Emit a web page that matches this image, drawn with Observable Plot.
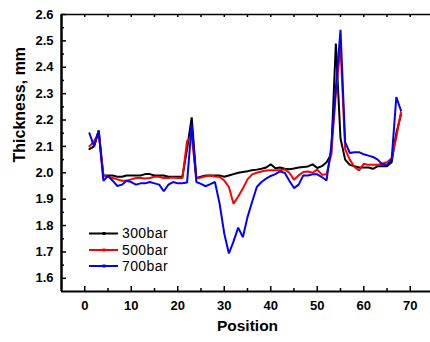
<!DOCTYPE html>
<html><head><meta charset="utf-8">
<script src="https://cdn.jsdelivr.net/npm/d3@7"></script>
<script src="https://cdn.jsdelivr.net/npm/@observablehq/plot@0.6"></script>
<style>body{margin:0;background:#fff}</style>
</head><body><div id="chart"></div>
<script>
const positions = [1,2,3,4,5,6,7,8,9,10,11,12,13,14,15,16,17,18,19,20,21,22,23,24,25,26,27,28,29,30,31,32,33,34,35,36,37,38,39,40,41,42,43,44,45,46,47,48,49,50,51,52,53,54,55,56,57,58,59,60,61,62,63,64,65,66,67,68];
const bar300 = [2.09,2.10,2.16,1.99,1.99,1.99,1.985,1.985,1.99,1.99,1.99,1.99,1.995,1.995,1.99,1.99,1.99,1.985,1.985,1.985,1.985,2.09,2.21,1.98,1.985,1.99,1.99,1.99,1.99,1.985,1.99,1.995,2.0,2.003,2.006,2.01,2.012,2.015,2.02,2.032,2.017,2.02,2.015,2.013,2.016,2.02,2.022,2.024,2.032,2.018,2.025,2.04,2.07,2.49,2.13,2.05,2.03,2.025,2.02,2.02,2.02,2.015,2.025,2.025,2.025,2.04,2.15,2.22];
const bar500 = [2.10,2.12,2.15,1.99,1.985,1.98,1.975,1.97,1.97,1.975,1.98,1.98,1.978,1.98,1.985,1.985,1.98,1.98,1.982,1.98,1.98,2.12,2.14,1.978,1.982,1.987,1.99,1.986,1.984,1.971,1.946,1.883,1.91,1.94,1.975,1.994,2.0,2.005,2.009,2.01,2.01,2.01,2.013,2.0,1.974,1.99,2.003,2.005,2.0,2.012,1.993,1.994,2.07,2.30,2.48,2.09,2.05,2.022,2.009,2.034,2.03,2.03,2.03,2.035,2.04,2.055,2.135,2.23];
const bar700 = [2.15,2.10,2.16,1.97,1.988,1.97,1.95,1.955,1.97,1.965,1.955,1.96,1.96,1.965,1.96,1.955,1.93,1.955,1.965,1.96,1.96,1.963,2.183,1.965,1.958,1.949,1.957,1.965,1.883,1.77,1.694,1.74,1.792,1.756,1.832,1.89,1.946,1.965,1.978,1.988,1.995,2.005,2.0,1.97,1.942,1.955,1.99,1.99,1.994,1.994,1.984,1.971,2.097,2.32,2.542,2.116,2.075,2.078,2.078,2.07,2.065,2.06,2.05,2.032,2.03,2.05,2.287,2.236];
const seriesNames = ["300bar","500bar","700bar"];
const seriesColors = ["#000000","#ff0000","#0000ff"];
const xMajor = [0,10,20,30,40,50,60,70];
const xMinor = [5,15,25,35,45,55,65];
const xTop = [0,5,10,15,20,25,30,35,40,45,50,55,60,65,70];
const yMajor = [1.6,1.7,1.8,1.9,2.0,2.1,2.2,2.3,2.4,2.5,2.6];
const yMinor = [1.65,1.75,1.85,1.95,2.05,2.15,2.25,2.35,2.45,2.55];

const seriesValues = [bar300, bar500, bar700];
const data = [];
seriesNames.forEach((name, i) => {
  positions.forEach((p, j) => data.push({series: name, pos: p, v: seriesValues[i][j]}));
});

const W = 430, H = 342, mL = 61, mR = -3, mT = 14, mB = 51;
const plotH = H - mT - mB, plotW = W - mL - mR;

const chart = Plot.plot({
  width: W, height: H,
  marginLeft: mL, marginRight: mR, marginTop: mT, marginBottom: mB,
  x: {domain: [-5, 75]},
  y: {domain: [1.55, 2.6]},
  color: {domain: seriesNames, range: seriesColors},
  style: {fontFamily: "'Liberation Sans', Arial, sans-serif", background: "white", overflow: "visible"},
  marks: [
    Plot.line(data, {x: "pos", y: "v", z: "series", stroke: "series", strokeWidth: 2, strokeLinejoin: "miter"}),
    Plot.ruleX(xMajor, {insetTop: plotH - 5, strokeWidth: 1.5}),
    Plot.ruleX(xMinor, {insetTop: plotH - 3, strokeWidth: 1.5}),
    Plot.ruleX(xTop, {insetBottom: plotH - 3, strokeWidth: 1.5}),
    Plot.ruleY(yMajor, {insetRight: plotW - 5, strokeWidth: 1.5}),
    Plot.ruleY(yMinor, {insetRight: plotW - 3, strokeWidth: 1.5}),
    Plot.ruleX([-5], {strokeWidth: 2.5}),
    Plot.ruleY([1.55], {strokeWidth: 2.2}),
    Plot.ruleY([2.6], {strokeWidth: 1.6}),
    Plot.axisX({ticks: xMajor, tickSize: 0, tickPadding: 9, fontSize: 13, fontWeight: "bold", label: null, fill: "black"}),
    Plot.axisY({ticks: yMajor, tickSize: 0, tickPadding: 8, fontSize: 13, fontWeight: "bold", label: null, tickFormat: d3.format(".1f"), fill: "black"}),
    Plot.text(["Position"], {frameAnchor: "bottom", dy: 39, fontSize: 15.5, fontWeight: "bold", fill: "black"}),
    Plot.text(["Thickness, mm"], {frameAnchor: "left", dx: -42, dy: 9.5, rotate: -90, fontSize: 16, fontWeight: "bold", fill: "black"})
  ]
});
document.getElementById("chart").append(chart);

// legend
const svg = d3.select(chart);
const lg = svg.append("g").attr("font-family", "'Liberation Sans', Arial, sans-serif").attr("text-anchor", "start");
const legendY = [233.5, 250, 266];
seriesNames.forEach((name, i) => {
  const g = lg.append("g").attr("transform", `translate(0,${legendY[i]})`);
  g.append("line").attr("x1", 89).attr("x2", 118).attr("y1", 0).attr("y2", 0)
    .attr("stroke", seriesColors[i]).attr("stroke-width", 2);
  g.append("rect").attr("x", 102.5).attr("y", -1.5).attr("width", 3).attr("height", 3).attr("fill", seriesColors[i]);
  g.append("text").attr("x", 122).attr("y", 0).attr("dy", "0.35em").attr("text-anchor", "start")
    .attr("font-size", 14).attr("letter-spacing", 0.4).attr("fill", "black").text(name);
});
</script>
</body></html>
